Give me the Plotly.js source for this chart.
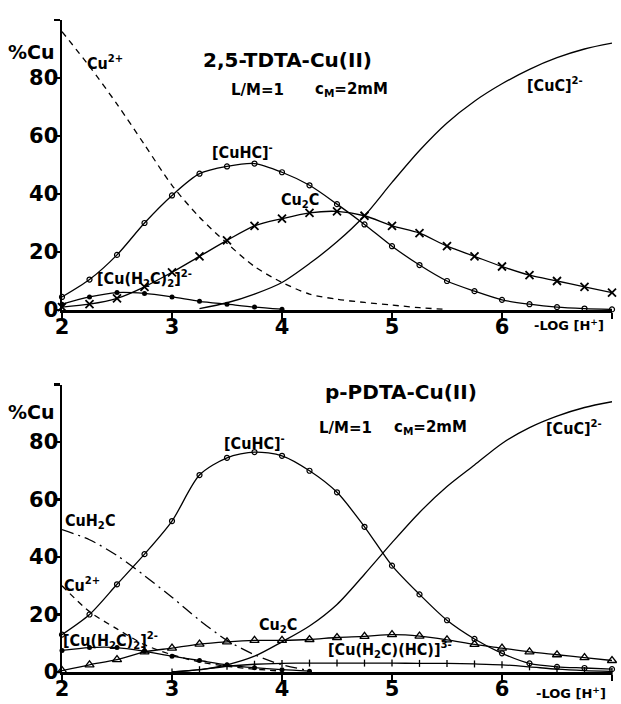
<!DOCTYPE html>
<html><head><meta charset="utf-8">
<script src="https://cdn.plot.ly/plotly-3.0.1.min.js"></script>
<style>body{margin:0;background:#fff}#chart{width:621px;height:704px}</style>
</head><body><div id="chart"></div>
<script>
// ---- Top panel: 2,5-TDTA-Cu(II) ----
const tCu2X   = [2,2.25,2.5,2.75,3,3.25,3.5,3.75,4,4.25,4.5,4.75,5,5.25,5.5];
const tCu2Y   = [96,84,71,57,43,32,23,15,9.5,5.5,3.7,2.6,1.7,0.8,0.2];
const tCuHCX  = [2,2.25,2.5,2.75,3,3.25,3.5,3.75,4,4.25,4.5,4.75,5,5.25,5.5,5.75,6,6.25,6.5,6.75,7];
const tCuHCY  = [4.5,10.5,19,30,39.5,47,49.5,50.5,47.5,43,36.5,29.5,22,15.5,10,6.5,3.5,2,1,0.5,0.2];
const tCu2CX  = [2,2.25,2.5,2.75,3,3.25,3.5,3.75,4,4.25,4.5,4.75,5,5.25,5.5,5.75,6,6.25,6.5,6.75,7];
const tCu2CY  = [1,2,4,8,13,18.5,24,29,31.5,33.5,34,32.5,29,26.5,22,18.5,15,12,10,8,6];
const tCuH2C2X = [2,2.25,2.5,2.75,3,3.25,3.5,3.75,4];
const tCuH2C2Y = [2,4.5,6,5.7,4.5,3,2,1,0.3];
const tCuCX   = [3.25,3.5,3.75,4,4.25,4.5,4.75,5,5.25,5.5,5.75,6,6.25,6.5,6.75,7];
const tCuCY   = [0.5,2.5,5.5,9.5,16,23.5,32.5,44,55,64.5,72,78,83,87,90,92];

// ---- Bottom panel: p-PDTA-Cu(II) ----
const bCuHCX  = [2,2.25,2.5,2.75,3,3.25,3.5,3.75,4,4.25,4.5,4.75,5,5.25,5.5,5.75,6,6.25,6.5,6.75,7];
const bCuHCY  = [13,20,30.5,41,52.5,68.5,74.5,76.5,75.2,70,62.5,50.5,37,27,18,11.5,6.5,3,1.8,1.4,1];
const bCuCX   = [3,3.25,3.5,3.75,4,4.25,4.5,4.75,5,5.25,5.5,5.75,6,6.25,6.5,6.75,7];
const bCuCY   = [0,0.8,2.5,5.5,10.5,16,23.5,34,45,55.5,64.5,72,79.5,85,89,92,94];
const bCuH2CX = [2,2.25,2.5,2.75,3,3.25,3.5,3.75,4,4.25];
const bCuH2CY = [49.5,46,40.5,33.5,26,18,11,6,2.5,0.5];
const bCu2X   = [2,2.25,2.5,2.75,3,3.25,3.5,3.75,4];
const bCu2Y   = [30,21,15,9.5,6,3.5,2,1,0.3];
const bCuH2C2X = [2,2.25,2.5,2.75,3,3.25,3.5,3.75,4,4.25];
const bCuH2C2Y = [7.5,8.5,8.5,7.2,5.5,4,2.5,1.5,0.8,0.3];
const bCu2CX  = [2,2.25,2.5,2.75,3,3.25,3.5,3.75,4,4.25,4.5,4.75,5,5.25,5.5,5.75,6,6.25,6.5,6.75,7];
const bCu2CY  = [0.5,2.5,4.3,7,8.3,9.7,10.5,11,11,11.3,12,12.4,13,12.5,11.2,9.6,8.3,7,6,5,4];
const bMixX   = [3,3.25,3.5,3.75,4,4.25,4.5,4.75,5,5.25,5.5,5.75,6,6.25,6.5,6.75,7];
const bMixY   = [0,0.8,2,2.7,3,3.1,3.1,3.1,3.1,3,3,2.8,2.5,1.8,1,0.5,0.2];

const xTicks = [2,3,4,5,6,7];
const xTickText = ['2','3','4','5','6',''];
const yTicks = [0,20,40,60,80,100];
const yTickText = ['0','20','40','60','80',''];

const LW = 1.3;
function tr(x, y, xa, ya, opts) {
  const t = {x: x, y: y, xaxis: xa, yaxis: ya, type: 'scatter', mode: opts.mode || 'lines',
    line: {color: '#000', width: LW, shape: 'spline', smoothing: 0.8, dash: opts.dash || 'solid'},
    showlegend: false, hoverinfo: 'skip', cliponaxis: false};
  if (opts.marker) t.marker = opts.marker;
  return t;
}
const mCircle = {symbol: 'circle-open', size: 5, color: '#000', line: {width: 1.2, color: '#000'}};
const mX = {symbol: 'x-thin-open', size: 8, color: '#000', line: {width: 1.8, color: '#000'}};
const mDot = {symbol: 'circle', size: 5, color: '#000'};
const mTri = {symbol: 'triangle-up-open', size: 8, color: '#000', line: {width: 1.3, color: '#000'}};
const mPlus = {symbol: 'line-ns-open', size: 5, color: '#000', line: {width: 1.3, color: '#000'}};

const DASH = '6px,5px';
const DASHDOT = '12px,5px,2px,5px';

const data = [
  tr(tCu2X, tCu2Y, 'x', 'y', {dash: DASH}),
  tr(tCuHCX, tCuHCY, 'x', 'y', {mode: 'lines+markers', marker: mCircle}),
  tr(tCu2CX, tCu2CY, 'x', 'y', {mode: 'lines+markers', marker: mX}),
  tr(tCuH2C2X, tCuH2C2Y, 'x', 'y', {mode: 'lines+markers', marker: mDot}),
  tr(tCuCX, tCuCY, 'x', 'y', {}),
  tr(bCuHCX, bCuHCY, 'x2', 'y2', {mode: 'lines+markers', marker: mCircle}),
  tr(bCuCX, bCuCY, 'x2', 'y2', {}),
  tr(bCuH2CX, bCuH2CY, 'x2', 'y2', {dash: DASHDOT}),
  tr(bCu2X, bCu2Y, 'x2', 'y2', {dash: DASH}),
  tr(bCuH2C2X, bCuH2C2Y, 'x2', 'y2', {mode: 'lines+markers', marker: mDot}),
  tr(bCu2CX, bCu2CY, 'x2', 'y2', {mode: 'lines+markers', marker: mTri}),
  tr(bMixX, bMixY, 'x2', 'y2', {mode: 'lines+markers', marker: mPlus})
];

const FONT = 'DejaVu Sans, sans-serif';
const LFONT = 'Liberation Sans Narrow, DejaVu Sans Condensed, DejaVu Sans, sans-serif';
function xa(anchor) {
  return {domain: [62/621, 612/621], range: [2, 7], anchor: anchor, showgrid: false, zeroline: false,
    showline: true, linecolor: '#000', linewidth: 2.5, ticks: 'outside', ticklen: 6, tickwidth: 2.5,
    tickcolor: '#000', tickvals: xTicks, ticktext: xTickText, ticklabelstandoff: -10,
    tickfont: {family: FONT, size: 21, color: '#000', weight: 'bold'}, fixedrange: true};
}
function ya(anchor, d) {
  return {domain: d, range: [0, 100], anchor: anchor, showgrid: false, zeroline: false,
    showline: true, linecolor: '#000', linewidth: 2.5, ticks: 'outside', ticklen: 6, tickwidth: 2.5,
    tickcolor: '#000', tickvals: yTicks, ticktext: yTickText, ticklabelstandoff: -9,
    tickfont: {family: FONT, size: 21, color: '#000', weight: 'bold'}, fixedrange: true};
}
function ann(text, x, y, xr, yr, size, fam) {
  return {text: text, x: x, y: y, xref: xr, yref: yr, showarrow: false, xanchor: 'center', yanchor: 'middle',
    font: {family: fam || LFONT, size: size, color: '#000'}};
}
const S = 16;
const annotations = [
  ann('<b>%Cu</b>', 31/621, 1 - 52/704, 'paper', 'paper', 19, FONT),
  ann('<b>2,5-TDTA-Cu(II)</b>', 4.05, 86.2, 'x', 'y', 20, FONT),
  ann('<b>L/M=1</b>', 3.78, 75.9, 'x', 'y', 15, FONT),
  ann('<b>c<sub>M</sub>=2mM</b>', 4.63, 75.9, 'x', 'y', 15, FONT),
  ann('<b>Cu<sup>2+</sup></b>', 2.39, 85.2, 'x', 'y', S),
  ann('<b>[CuHC]<sup>-</sup></b>', 3.64, 54.5, 'x', 'y', S),
  ann('<b>Cu<sub>2</sub>C</b>', 4.16, 37.6, 'x', 'y', S),
  ann('<b>[Cu(H<sub>2</sub>C)<sub>2</sub>]<sup>2-</sup></b>', 2.75, 11, 'x', 'y', S),
  ann('<b>[CuC]<sup>2-</sup></b>', 6.48, 77.6, 'x', 'y', S),
  ann('<b>-LOG [H<sup>+</sup>]</b>', 569/621, 1 - 325/704, 'paper', 'paper', 13, FONT),

  ann('<b>%Cu</b>', 31/621, 1 - 412/704, 'paper', 'paper', 19, FONT),
  ann('<b>p-PDTA-Cu(II)</b>', 5.08, 97.4, 'x2', 'y2', 20, FONT),
  ann('<b>L/M=1</b>', 4.58, 84.9, 'x2', 'y2', 15, FONT),
  ann('<b>c<sub>M</sub>=2mM</b>', 5.35, 84.9, 'x2', 'y2', 15, FONT),
  ann('<b>[CuHC]<sup>-</sup></b>', 3.75, 79.7, 'x2', 'y2', S),
  ann('<b>CuH<sub>2</sub>C</b>', 2.25, 52.2, 'x2', 'y2', S),
  ann('<b>Cu<sup>2+</sup></b>', 2.18, 30.3, 'x2', 'y2', S),
  ann('<b>[Cu(H<sub>2</sub>C)<sub>2</sub>]<sup>2-</sup></b>', 2.44, 11.1, 'x2', 'y2', S),
  ann('<b>Cu<sub>2</sub>C</b>', 3.96, 16.3, 'x2', 'y2', S),
  ann('<b>[Cu(H<sub>2</sub>C)(HC)]<sup>3-</sup></b>', 4.98, 7.7, 'x2', 'y2', S),
  ann('<b>[CuC]<sup>2-</sup></b>', 6.65, 84.9, 'x2', 'y2', S),
  ann('<b>-LOG [H<sup>+</sup>]</b>', 571/621, 1 - 693/704, 'paper', 'paper', 13, FONT)
];

const layout = {
  width: 621, height: 704, margin: {l: 0, r: 0, t: 0, b: 0},
  paper_bgcolor: '#fff', plot_bgcolor: 'rgba(0,0,0,0)', showlegend: false,
  xaxis: xa('y'), yaxis: ya('x', [1 - 310/704, 1 - 20/704]),
  xaxis2: xa('y2'), yaxis2: ya('x2', [1 - 672/704, 1 - 384.5/704]),
  annotations: annotations
};
Plotly.newPlot('chart', data, layout, {staticPlot: true, displayModeBar: false});
</script></body></html>
